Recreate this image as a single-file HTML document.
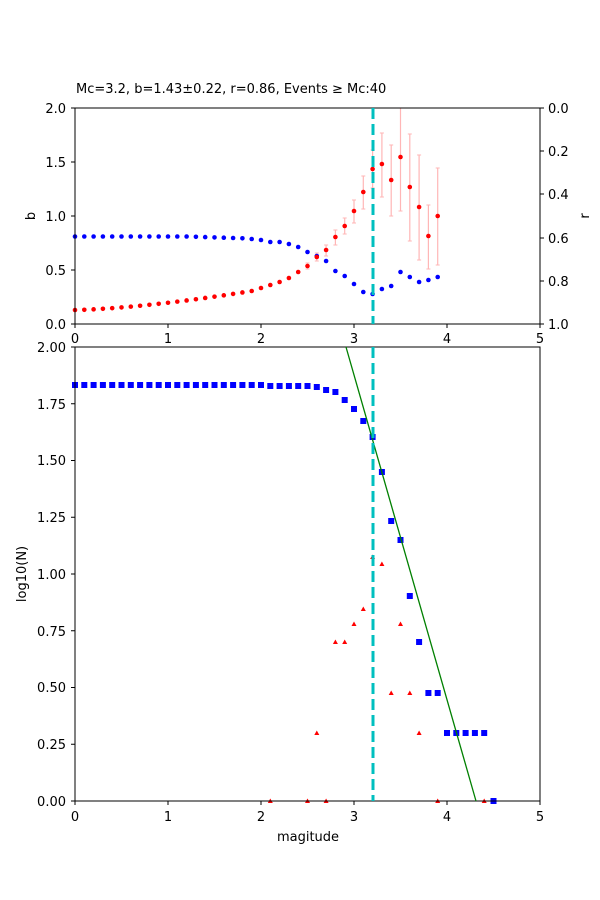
<!DOCTYPE html>
<html><head><meta charset="utf-8"><style>
html,body{margin:0;padding:0;background:#fff}
svg{display:block;font-family:"DejaVu Sans","Liberation Sans",sans-serif}
</style></head><body>
<svg id="s" width="600" height="900" viewBox="0 0 600 900" xmlns="http://www.w3.org/2000/svg">
<rect width="600" height="900" fill="#fff"/>
<g id="data"></g>
<!-- top axes -->
<rect x="75" y="108" width="465" height="216" fill="none" stroke="#000" stroke-width="1"/>
<line x1="373" y1="108" x2="373" y2="324" stroke="#00bfbf" stroke-width="3" stroke-dasharray="11,5"/>
<!-- bottom axes -->
<rect x="75" y="347" width="465" height="454" fill="none" stroke="#000" stroke-width="1"/>
<line x1="346" y1="347" x2="476" y2="801" stroke="green" stroke-width="1.3"/>
<line x1="373" y1="347" x2="373" y2="801" stroke="#00bfbf" stroke-width="3" stroke-dasharray="11,5"/>
<g font-size="13" fill="#000">
<text x="76" y="93">Mc=3.2, b=1.43±0.22, r=0.86, Events ≥ Mc:40</text>
<!-- top left ticks -->
<g text-anchor="end">
<text x="66" y="113">2.0</text><text x="66" y="167">1.5</text><text x="66" y="221">1.0</text><text x="66" y="275">0.5</text><text x="66" y="329">0.0</text>
</g>
<g text-anchor="start">
<text x="548" y="113">0.0</text><text x="548" y="156">0.2</text><text x="548" y="199">0.4</text><text x="548" y="243">0.6</text><text x="548" y="286">0.8</text><text x="548" y="329">1.0</text>
</g>
<g text-anchor="middle">
<text x="75" y="343">0</text><text x="168" y="343">1</text><text x="261" y="343">2</text><text x="354" y="343">3</text><text x="447" y="343">4</text><text x="540" y="343">5</text>
<text x="75" y="821">0</text><text x="168" y="821">1</text><text x="261" y="821">2</text><text x="354" y="821">3</text><text x="447" y="821">4</text><text x="540" y="821">5</text>
<text x="308" y="841">magitude</text>
</g>
<text transform="translate(35,216) rotate(-90)" text-anchor="middle">b</text>
<text transform="translate(589,216) rotate(-90)" text-anchor="middle">r</text>
<text transform="translate(26,574) rotate(-90)" text-anchor="middle">log10(N)</text>
<g text-anchor="end">
<text x="66" y="352">2.00</text><text x="66" y="409">1.75</text><text x="66" y="465">1.50</text><text x="66" y="522">1.25</text><text x="66" y="579">1.00</text><text x="66" y="636">0.75</text><text x="66" y="692">0.50</text><text x="66" y="749">0.25</text><text x="66" y="806">0.00</text>
</g>
</g>
<g id="ticks" stroke="#000" stroke-width="1"></g>
</svg>
<script>
var NS="http://www.w3.org/2000/svg",d=document.getElementById("data"),tk=document.getElementById("ticks");
function el(n,a,p){var e=document.createElementNS(NS,n);for(var k in a)e.setAttribute(k,a[k]);(p||d).appendChild(e);return e;}
function X(m){return 75+93*m;}
// ticks
[0,1,2,3,4,5].forEach(function(m){el("line",{x1:X(m),x2:X(m),y1:324,y2:328},tk);el("line",{x1:X(m),x2:X(m),y1:801,y2:805},tk);});
[108,162,216,270,324].forEach(function(y){el("line",{x1:71,x2:75,y1:y,y2:y},tk);});
[108,151,194,238,281,324].forEach(function(y){el("line",{x1:540,x2:544,y1:y,y2:y},tk);});
for(var i=0;i<9;i++){var y=801-56.75*i;el("line",{x1:71,x2:75,y1:y,y2:y},tk);}
// top red b
var red=[],blue=[];
for(var i=0;i<19;i++){var m=i/10;red.push([m,310-19*Math.pow(m/1.9,1.5)]);blue.push([m,i<13?236.5:236.5+(m-1.2)*3]);}
var r2=[[1.9,291],[2.0,288],[2.1,285],[2.2,282],[2.3,278],[2.4,272],[2.5,266],[2.6,257],[2.7,250],[2.8,237],[2.9,226],[3.0,211],[3.1,192],[3.2,169],[3.3,164],[3.4,180],[3.5,157],[3.6,187],[3.7,207],[3.8,236],[3.9,216]];
var b2=[[1.9,239],[2.0,240],[2.1,242],[2.2,242],[2.3,244],[2.4,247],[2.5,252],[2.6,256],[2.7,261],[2.8,271],[2.9,276],[3.0,284],[3.1,292],[3.2,294],[3.3,289],[3.4,286],[3.5,272],[3.6,277],[3.7,282],[3.8,280],[3.9,277]];
var eb={2.5:[263,269],2.6:[253,261],2.7:[245,256],2.8:[230,245],2.9:[218,234],3.0:[200,223],3.1:[176,209],3.2:[150,188],3.3:[133,197],3.4:[145,216],3.5:[108,211],3.6:[134,241],3.7:[155,260],3.8:[205,269],3.9:[168,265]};
for(var k in eb){var x=X(+k);el("line",{x1:x,x2:x,y1:eb[k][0],y2:eb[k][1],stroke:"#ffb6b6","stroke-width":1.2});el("line",{x1:x-2,x2:x+2,y1:eb[k][0],y2:eb[k][0],stroke:"#ffb6b6"});el("line",{x1:x-2,x2:x+2,y1:eb[k][1],y2:eb[k][1],stroke:"#ffb6b6"});}
red=red.concat(r2);blue=blue.concat(b2);
blue.forEach(function(p){el("circle",{cx:X(p[0]),cy:p[1],r:2.3,fill:"#0000ff"});});
red.forEach(function(p){el("circle",{cx:X(p[0]),cy:p[1],r:2.3,fill:"#ff0000"});});
// bottom blue squares
var sq=[];for(var i=0;i<=20;i++)sq.push([i/10,385]);
sq=sq.concat([[2.1,386],[2.2,386],[2.3,386],[2.4,386],[2.5,386],[2.6,387],[2.7,390],[2.8,392],[2.9,400],[3.0,409],[3.1,421],[3.2,437],[3.3,472],[3.4,521],[3.5,540],[3.6,596],[3.7,642],[3.8,693],[3.9,693],[4.0,733],[4.1,733],[4.2,733],[4.3,733],[4.4,733],[4.5,801]]);
sq.forEach(function(p){el("rect",{x:X(p[0])-3,y:p[1]-3,width:6,height:6,fill:"#0000ff"});});
var tr=[[2.1,801],[2.5,801],[2.7,801],[2.6,733],[2.8,642],[2.9,642],[3.0,624],[3.1,609],[3.2,557],[3.3,564],[3.4,693],[3.5,624],[3.6,693],[3.7,733],[3.9,801],[4.4,801]];
tr.forEach(function(p){var x=X(p[0]),y=p[1];el("polygon",{points:(x-2.5)+","+(y+2)+" "+(x+2.5)+","+(y+2)+" "+x+","+(y-2.5),fill:"#ff0000"});});
</script>
</body></html>
